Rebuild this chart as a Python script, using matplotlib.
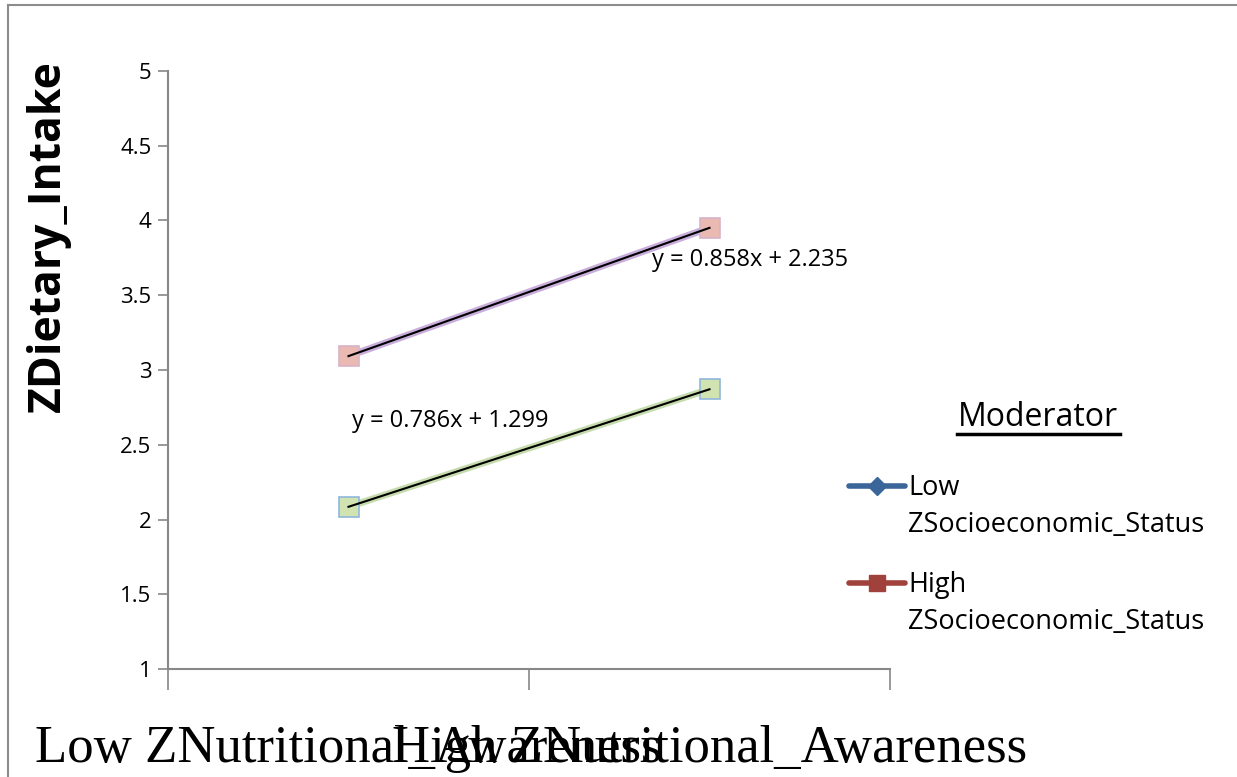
import matplotlib.pyplot as plt
from matplotlib.lines import Line2D

categories = ['Low ZNutritional_Awareness', 'High ZNutritional_Awareness']
x_pos = [1, 2]
low_ses = [2.085, 2.871]
high_ses = [3.093, 3.951]
low_fit = (0.786, 1.299)
high_fit = (0.858, 2.235)
legend_labels = ['Low\nZSocioeconomic_Status', 'High\nZSocioeconomic_Status']
legend_colors = ['#3a6699', '#a0413c']
legend_markers = ['D', 's']

sans = ['Open Sans', 'DejaVu Sans']

fig = plt.figure(figsize=(12.37, 7.77), dpi=100)
ax = fig.add_axes([168 / 1237, 1 - 669 / 777, (890 - 168) / 1237, (669 - 71) / 777])

# series lines (pale, as in the original export)
ax.plot(x_pos, high_ses, color='#c9aedc', lw=5, marker='s', ms=14,
        mfc='#e9b9b2', mec='#d8b4c8', mew=1.2, zorder=2)
ax.plot(x_pos, low_ses, color='#c7dcae', lw=5, marker='s', ms=14,
        mfc='#d2e3b2', mec='#8fb8dc', mew=1.2, zorder=2)

# linear trendlines
for m, b in (high_fit, low_fit):
    ax.plot(x_pos, [m * x + b for x in x_pos], color='black', lw=1.5, zorder=3)

ax.text(2.112, 3.736, 'y = 0.858x + 2.235', fontsize=17, family=sans, ha='center', va='center')
ax.text(1.281, 2.659, 'y = 0.786x + 1.299', fontsize=17, family=sans, ha='center', va='center')

ax.set_xlim(0.5, 2.5)
ax.set_ylim(1, 5)
ax.set_yticks([1, 1.5, 2, 2.5, 3, 3.5, 4, 4.5, 5])
ax.set_yticklabels(['1', '1.5', '2', '2.5', '3', '3.5', '4', '4.5', '5'], family=sans, fontsize=16)
ax.tick_params(axis='y', length=7, color='#888888', width=1.2, pad=5)

ax.set_xticks([0.5, 1.5, 2.5])
ax.set_xticklabels([])
ax.set_xticks(x_pos, minor=True)
ax.set_xticklabels(categories, minor=True, family='Liberation Serif', fontsize=38)
ax.tick_params(axis='x', which='major', length=15, color='#888888', width=1.2)
ax.tick_params(axis='x', which='minor', length=0, pad=40)

for s in ('top', 'right'):
    ax.spines[s].set_visible(False)
for s in ('left', 'bottom'):
    ax.spines[s].set_color('#888888')
    ax.spines[s].set_linewidth(1.5)

fig.text(48 / 1237, 1 - 236 / 777, 'ZDietary_Intake', rotation=90, fontsize=32,
         fontweight='bold', family=sans, ha='center', va='center')

# legend, drawn by hand so the handle sits beside the first text line
fig.text(1038 / 1237, 1 - 418 / 777, 'Moderator', fontsize=23, family=sans,
         ha='center', va='center')
fig.add_artist(Line2D([957 / 1237, 1120 / 1237], [1 - 434 / 777, 1 - 434 / 777],
                      color='black', lw=2.5))
for i, (lab, col, mk) in enumerate(zip(legend_labels, legend_colors, legend_markers)):
    y0 = 486 + i * 97
    yf = 1 - y0 / 777
    fig.add_artist(Line2D([849 / 1237, 905 / 1237], [yf, yf], color=col, lw=4,
                          solid_capstyle='round'))
    fig.add_artist(Line2D([877 / 1237], [yf], color=col, marker=mk,
                          ms=9 if mk == 'D' else 11, mfc=col, mec=col))
    fig.text(908 / 1237, 1 - (y0 - 12) / 777, lab, fontsize=19.5, family=sans,
             ha='left', va='top', linespacing=1.45)

# chart area frame
fig.add_artist(Line2D([8 / 1237, 1], [1 - 5 / 777, 1 - 5 / 777], color='#8c8c8c', lw=1.5))
fig.add_artist(Line2D([8 / 1237, 8 / 1237], [1 - 5 / 777, 0], color='#8c8c8c', lw=1.5))

fig.savefig('out.png', dpi=100)
